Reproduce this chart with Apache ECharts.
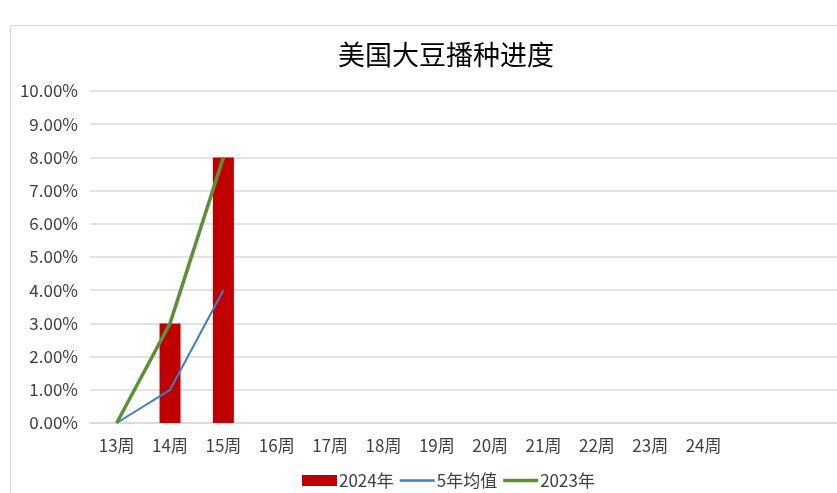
<!DOCTYPE html>
<html>
<head>
<meta charset="utf-8">
<script src="https://cdn.jsdelivr.net/npm/echarts@6/dist/echarts.min.js"></script>
<style>
html,body{margin:0;padding:0;background:#fff;}
#c{width:837px;height:493px;}
</style>
</head>
<body>
<div id="c"></div>
<script>
const categories = ['13周','14周','15周','16周','17周','18周','19周','20周','21周','22周','23周','24周','',''];
const s2024 = [0, 3, 8];
const s5yr = [0, 1, 4];
const s2023 = [0, 3, 8];
const seriesNames = ['2024年','5年均值','2023年'];

const chart = echarts.init(document.getElementById('c'));
const font = '"Microsoft YaHei","Noto Sans CJK SC","Noto Sans",sans-serif';
chart.setOption({
  animation: false,
  backgroundColor: '#fff',
  textStyle: {fontFamily: font},
  graphic: [{
    type: 'rect', silent: true, z: -1,
    shape: {x: 10.5, y: 25.5, width: 900, height: 600},
    style: {fill: 'none', stroke: '#d9d9d9', lineWidth: 1}
  }],
  title: {
    text: '美国大豆播种进度',
    left: 441, top: 36, textAlign: 'center',
    textStyle: {fontSize: 27, fontWeight: 'normal', color: '#000', fontFamily: '"Noto Sans CJK SC",serif'}
  },
  legend: {
    data: [
      {name: seriesNames[0], icon: 'rect'},
      {name: seriesNames[1], icon: 'path://M0,0H35V2.5H0Z'},
      {name: seriesNames[2], icon: 'path://M0,0H35V3.5H0Z'}
    ],
    left: 297, top: 467,
    itemWidth: 35, itemHeight: 11, itemGap: 6,
    textStyle: {fontSize: 17, color: '#404040', padding: [0,0,0,-3]}
  },
  grid: {left: 90, top: 91, bottom: 70, width: 749, containLabel: false},
  xAxis: {
    type: 'category',
    data: categories,
    boundaryGap: true,
    axisLine: {show: true, lineStyle: {color: '#d9d9d9', width: 1.5}},
    axisTick: {show: false},
    axisLabel: {fontSize: 17, color: '#404040', margin: 14, interval: 0}
  },
  yAxis: {
    type: 'value',
    min: 0, max: 10, interval: 1,
    axisLine: {show: false},
    axisTick: {show: false},
    splitLine: {lineStyle: {color: '#d9d9d9', width: 1.5}},
    axisLabel: {fontSize: 17, color: '#404040', margin: 12,
      formatter: v => v.toFixed(2) + '%'}
  },
  series: [
    {name: seriesNames[0], type: 'bar', data: s2024, barWidth: 21,
      itemStyle: {color: '#C00000'}},
    {name: seriesNames[1], type: 'line', data: s5yr, symbol: 'none', symbolKeepAspect: true,
      lineStyle: {color: '#3F7FC1', width: 2}, itemStyle: {color: '#3F7FC1'}},
    {name: seriesNames[2], type: 'line', data: s2023, symbol: 'none', symbolKeepAspect: true,
      lineStyle: {color: '#5E8F38', width: 3.5}, itemStyle: {color: '#5E8F38'}}
  ]
});
</script>
</body>
</html>
